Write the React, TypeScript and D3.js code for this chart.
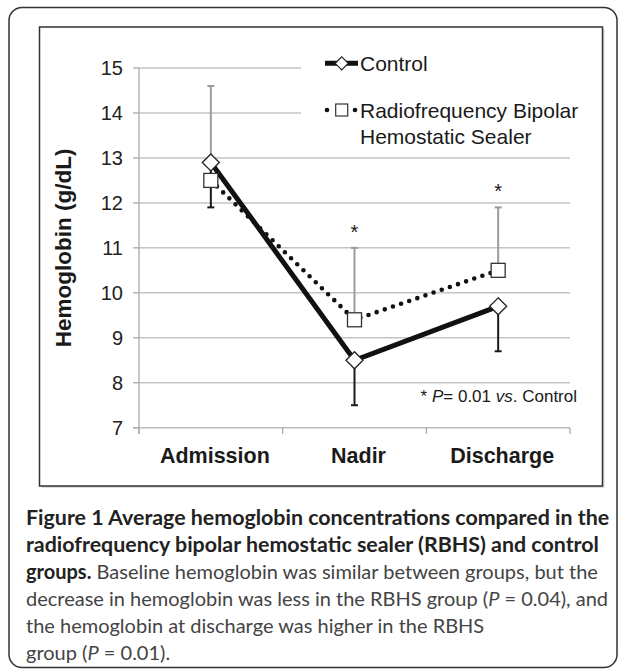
import React from 'react';
import * as d3 from 'd3';

// data
const categories = ['Admission', 'Nadir', 'Discharge'];
const controlMean = [12.9, 8.5, 9.7];
const controlLow = [11.9, 7.5, 8.7];
const rbhsMean = [12.5, 9.4, 10.5];
const rbhsHigh = [14.6, 11.0, 11.9];
const starred = [false, true, true];
const yTicks = [7, 8, 9, 10, 11, 12, 13, 14, 15];

const W = 625;
const H = 670;
const font = 'Liberation Sans, Arial, Helvetica, sans-serif';
const capFont = 'Lato, Open Sans, sans-serif';

const App = () => {
  const x = d3.scaleBand().domain(categories).range([139, 570]);
  const y = d3.scaleLinear().domain([7, 15]).range([427.7, 68]);
  const cx = (c: string) => (x(c) as number) + x.bandwidth() / 2;

  const line = d3.line<number>()
    .x((d, i) => cx(categories[i]))
    .y(d => y(d));

  const diamond = (px: number, py: number, r: number) =>
    `M${px},${py - r}L${px + r},${py}L${px},${py + r}L${px - r},${py}Z`;

  const boundaries = [...categories.map(c => x(c) as number), x.range()[1]];

  return (
    <svg width={W} height={H} style={{ position: 'absolute', left: 0, top: 0 }}>
      <rect width={W} height={H} fill="#fff" />
      {/* outer frame */}
      <rect x={9} y={7.5} width={608} height={660} rx={13} fill="none" stroke="#333" strokeWidth={1.5} />
      {/* chart box */}
      <rect x={41.5} y={29} width={563} height={459} fill="#ddd" />
      <rect x={39.5} y={27} width={563} height={459} fill="#fff" stroke="#333" strokeWidth={1.5} />

      {/* grid */}
      {yTicks.filter(t => t > 7).map(t => (
        <line key={t} x1={139} x2={570} y1={y(t)} y2={y(t)} stroke="#c4c4c4" strokeWidth={1.5} />
      ))}
      {/* axes */}
      <line x1={139} x2={139} y1={y(15)} y2={434} stroke="#aaa" strokeWidth={1.3} />
      <line x1={133} x2={570} y1={y(7)} y2={y(7)} stroke="#bbb" strokeWidth={1.5} />
      {yTicks.map(t => (
        <g key={t}>
          <line x1={133} x2={139} y1={y(t)} y2={y(t)} stroke="#aaa" strokeWidth={1.3} />
          <text x={123} y={y(t) + 7} textAnchor="end" fontFamily={font} fontSize={20} fill="#222">{t}</text>
        </g>
      ))}
      {boundaries.map((b, i) => (
        <line key={i} x1={b} x2={b} y1={y(7)} y2={434} stroke="#aaa" strokeWidth={1.3} />
      ))}
      {categories.map(c => (
        <text key={c} x={cx(c) + 4} y={463} textAnchor="middle" fontFamily={font} fontWeight="bold" fontSize={21.5} fill="#1a1a1a">{c}</text>
      ))}
      <text transform={`translate(71,${(y(7) + y(15)) / 2}) rotate(-90)`} textAnchor="middle" fontFamily={font} fontWeight="bold" fontSize={22.5} fill="#1a1a1a">Hemoglobin (g/dL)</text>

      {/* legend, white box hides the grid behind it */}
      <rect x={301} y={40} width={280} height={110} fill="#fff" />
      <line x1={325} x2={358} y1={63.3} y2={63.3} stroke="#111" strokeWidth={5} />
      <path d={diamond(341.7, 63.3, 6.5)} fill="#fff" stroke="#222" strokeWidth={1.2} />
      <text x={360} y={70.8} fontFamily={font} fontSize={21} fill="#1a1a1a">Control</text>
      <circle cx={327} cy={110} r={2.3} fill="#111" />
      <circle cx={355} cy={110} r={2.3} fill="#111" />
      <rect x={335.7} y={104} width={12} height={12} fill="#fff" stroke="#333" strokeWidth={1.2} />
      <text x={360} y={117.5} fontFamily={font} fontSize={21} fill="#1a1a1a">Radiofrequency Bipolar</text>
      <text x={360} y={143.5} fontFamily={font} fontSize={21} fill="#1a1a1a">Hemostatic Sealer</text>

      {/* error bars: RBHS up (grey), control down (black) */}
      {categories.map((c, i) => (
        <g key={c}>
          <line x1={cx(c)} x2={cx(c)} y1={y(rbhsMean[i])} y2={y(rbhsHigh[i])} stroke="#9c9c9c" strokeWidth={2} />
          <line x1={cx(c) - 3.5} x2={cx(c) + 3.5} y1={y(rbhsHigh[i])} y2={y(rbhsHigh[i])} stroke="#9c9c9c" strokeWidth={2} />
          <line x1={cx(c)} x2={cx(c)} y1={y(controlMean[i])} y2={y(controlLow[i])} stroke="#1a1a1a" strokeWidth={2} />
          <line x1={cx(c) - 3.5} x2={cx(c) + 3.5} y1={y(controlLow[i])} y2={y(controlLow[i])} stroke="#1a1a1a" strokeWidth={2} />
        </g>
      ))}

      {/* series lines */}
      <path d={line(rbhsMean) || ''} fill="none" stroke="#111" strokeWidth={4.6} strokeDasharray="0 8.6" strokeLinecap="round" />
      <path d={line(controlMean) || ''} fill="none" stroke="#111" strokeWidth={5} />

      {/* markers */}
      {categories.map((c, i) => (
        <rect key={c} x={cx(c) - 7} y={y(rbhsMean[i]) - 7} width={14} height={14} fill="#fff" stroke="#333" strokeWidth={1.3} />
      ))}
      {categories.map((c, i) => (
        <path key={c} d={diamond(cx(c), y(controlMean[i]), 8.5)} fill="#fff" stroke="#222" strokeWidth={1.3} />
      ))}

      {/* significance */}
      {categories.map((c, i) => starred[i] ? (
        <text key={c} x={cx(c)} y={y(rbhsHigh[i]) - 9} textAnchor="middle" fontFamily={font} fontSize={20} fill="#1a1a1a">*</text>
      ) : null)}
      <text x={577} y={402} textAnchor="end" fontFamily={font} fontSize={17} fill="#1a1a1a">
        * <tspan fontStyle="italic">P</tspan>= 0.01 <tspan fontStyle="italic">vs</tspan>. Control
      </text>

      {/* caption */}
      <g fontFamily={capFont}>
        <g fontSize={21.4} fontWeight="bold" fill="#222">
          <text x={26} y={525}>Figure 1 Average hemoglobin concentrations compared in the</text>
          <text x={26} y={552}>radiofrequency bipolar hemostatic sealer (RBHS) and control</text>
        </g>
        <g fontSize={20} fill="#444">
          <text x={26} y={579}><tspan fontWeight="bold" fill="#222">groups.</tspan> Baseline hemoglobin was similar between groups, but the</text>
          <text x={26} y={606}>decrease in hemoglobin was less in the RBHS group (<tspan fontStyle="italic">P</tspan> = 0.04), and</text>
          <text x={26} y={633}>the hemoglobin at discharge was higher in the RBHS</text>
          <text x={26} y={660}>group (<tspan fontStyle="italic">P</tspan> = 0.01).</text>
        </g>
      </g>
    </svg>
  );
};

export default App;
